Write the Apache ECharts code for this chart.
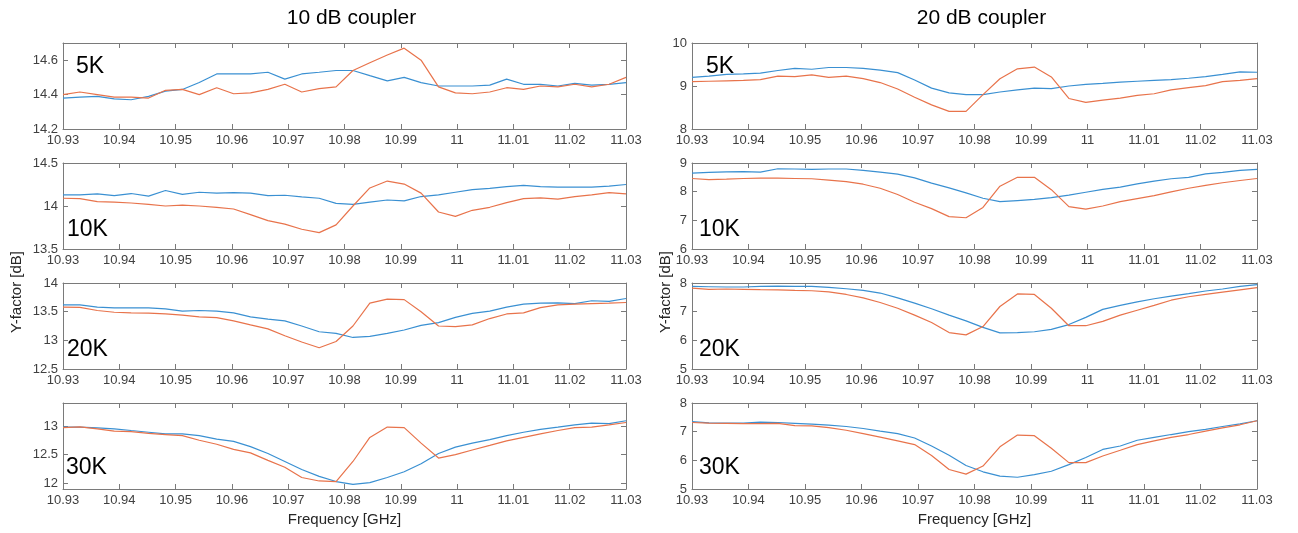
<!DOCTYPE html>
<html>
<head>
<meta charset="utf-8">
<script src="https://cdn.jsdelivr.net/npm/echarts@6/dist/echarts.min.js"></script>
<style>
html,body{margin:0;padding:0;background:#fff;}
#main{width:1298px;height:533px;}
</style>
</head>
<body>
<div id="main"></div>
<script>
// frequency points [GHz], shared by every trace
var freq = [10.93, 10.933, 10.9361, 10.9391, 10.9421, 10.9452, 10.9482, 10.9512, 10.9542, 10.9573,
	10.9603, 10.9633, 10.9664, 10.9694, 10.9724, 10.9755, 10.9785, 10.9815, 10.9845, 10.9876,
	10.9906, 10.9936, 10.9967, 10.9997, 11.0027, 11.0058, 11.0088, 11.0118, 11.0148, 11.0179,
	11.0209, 11.0239, 11.027, 11.03];

// 10 dB coupler
var c10Blue5K = [14.38, 14.385, 14.39, 14.375, 14.37, 14.39, 14.42, 14.43, 14.47, 14.52, 14.52, 14.52, 14.53, 14.49, 14.52, 14.53, 14.54,
	14.54, 14.51, 14.48, 14.50, 14.47, 14.45, 14.45, 14.45, 14.455, 14.49, 14.46, 14.46, 14.45, 14.465, 14.455, 14.46, 14.47];
var c10Orange5K = [14.40, 14.415, 14.40, 14.385, 14.385, 14.38, 14.425, 14.43, 14.40, 14.44, 14.405, 14.41, 14.43, 14.46, 14.415, 14.435, 14.445,
	14.54, 14.585, 14.63, 14.67, 14.60, 14.445, 14.41, 14.405, 14.415, 14.44, 14.43, 14.45, 14.445, 14.46, 14.445, 14.46, 14.50];
var c10Blue10K = [14.13, 14.13, 14.14, 14.12, 14.145, 14.115, 14.18, 14.135, 14.16, 14.15, 14.155, 14.15, 14.12, 14.125, 14.105, 14.09, 14.03,
	14.02, 14.045, 14.07, 14.06, 14.11, 14.13, 14.16, 14.19, 14.205, 14.225, 14.24, 14.225, 14.22, 14.22, 14.22, 14.23, 14.25];
var c10Orange10K = [14.09, 14.085, 14.05, 14.045, 14.035, 14.02, 14.00, 14.01, 14.0, 13.985, 13.965, 13.90, 13.83, 13.79, 13.73, 13.69, 13.78,
	14.0, 14.21, 14.29, 14.255, 14.15, 13.93, 13.88, 13.95, 13.985, 14.04, 14.085, 14.095, 14.08, 14.11, 14.13, 14.155, 14.14];
var c10Blue20K = [13.62, 13.62, 13.58, 13.565, 13.565, 13.565, 13.55, 13.51, 13.52, 13.51, 13.48, 13.41, 13.37, 13.34, 13.25, 13.15, 13.12,
	13.05, 13.07, 13.12, 13.18, 13.26, 13.31, 13.40, 13.47, 13.51, 13.58, 13.63, 13.65, 13.655, 13.64, 13.69, 13.68, 13.73];
var c10Orange20K = [13.58, 13.575, 13.52, 13.49, 13.48, 13.475, 13.46, 13.44, 13.41, 13.395, 13.34, 13.27, 13.20, 13.08, 12.97, 12.87, 12.98,
	13.25, 13.65, 13.72, 13.71, 13.50, 13.25, 13.24, 13.27, 13.38, 13.46, 13.48, 13.57, 13.62, 13.63, 13.64, 13.65, 13.66];
var c10Blue30K = [12.98, 12.98, 12.965, 12.95, 12.92, 12.89, 12.86, 12.86, 12.83, 12.77, 12.73, 12.64, 12.52, 12.38, 12.24, 12.12, 12.03,
	11.98, 12.01, 12.10, 12.20, 12.34, 12.52, 12.63, 12.70, 12.76, 12.83, 12.89, 12.94, 12.98, 13.02, 13.05, 13.04, 13.09];
var c10Orange30K = [12.97, 12.985, 12.95, 12.91, 12.90, 12.87, 12.85, 12.83, 12.75, 12.68, 12.59, 12.53, 12.40, 12.28, 12.10, 12.04, 12.03,
	12.38, 12.80, 12.98, 12.97, 12.70, 12.44, 12.50, 12.58, 12.66, 12.74, 12.80, 12.86, 12.92, 12.97, 12.98, 13.02, 13.06];

// 20 dB coupler
var c20Blue5K = [9.20, 9.23, 9.27, 9.28, 9.30, 9.36, 9.41, 9.39, 9.43, 9.43, 9.41, 9.37, 9.31, 9.14, 8.95, 8.84, 8.80,
	8.80, 8.86, 8.91, 8.95, 8.94, 9.0, 9.04, 9.06, 9.09, 9.11, 9.13, 9.15, 9.18, 9.22, 9.27, 9.33, 9.32];
var c20Orange5K = [9.10, 9.11, 9.12, 9.13, 9.15, 9.23, 9.22, 9.26, 9.20, 9.23, 9.17, 9.08, 8.93, 8.74, 8.56, 8.41, 8.41,
	8.80, 9.17, 9.40, 9.44, 9.21, 8.71, 8.62, 8.67, 8.72, 8.78, 8.82, 8.91, 8.96, 9.01, 9.10, 9.13, 9.17];
var c20Blue10K = [8.65, 8.67, 8.69, 8.70, 8.68, 8.80, 8.79, 8.78, 8.79, 8.79, 8.74, 8.68, 8.61, 8.48, 8.30, 8.13, 7.96,
	7.77, 7.65, 7.69, 7.73, 7.79, 7.88, 7.98, 8.08, 8.16, 8.27, 8.37, 8.45, 8.50, 8.62, 8.67, 8.74, 8.78];
var c20Orange10K = [8.46, 8.42, 8.44, 8.46, 8.47, 8.47, 8.46, 8.45, 8.40, 8.35, 8.26, 8.12, 7.90, 7.63, 7.41, 7.13, 7.09,
	7.45, 8.19, 8.50, 8.50, 8.07, 7.48, 7.39, 7.50, 7.65, 7.76, 7.86, 7.99, 8.12, 8.22, 8.31, 8.39, 8.46];
var c20Blue20K = [7.88, 7.87, 7.86, 7.86, 7.88, 7.89, 7.88, 7.88, 7.85, 7.80, 7.74, 7.65, 7.48, 7.30, 7.10, 6.88, 6.68,
	6.45, 6.26, 6.27, 6.30, 6.38, 6.55, 6.80, 7.08, 7.22, 7.34, 7.45, 7.54, 7.63, 7.72, 7.79, 7.88, 7.94];
var c20Orange20K = [7.82, 7.78, 7.79, 7.78, 7.77, 7.76, 7.74, 7.73, 7.69, 7.60, 7.48, 7.32, 7.12, 6.88, 6.62, 6.27, 6.19,
	6.48, 7.18, 7.62, 7.60, 7.12, 6.51, 6.51, 6.66, 6.88, 7.05, 7.22, 7.40, 7.52, 7.60, 7.68, 7.76, 7.84];
var c20Blue30K = [7.35, 7.31, 7.30, 7.30, 7.33, 7.32, 7.29, 7.26, 7.23, 7.18, 7.11, 7.02, 6.93, 6.78, 6.50, 6.18, 5.82,
	5.60, 5.45, 5.41, 5.50, 5.62, 5.85, 6.10, 6.38, 6.50, 6.70, 6.80, 6.90, 7.0, 7.08, 7.18, 7.27, 7.38];
var c20Orange30K = [7.32, 7.30, 7.29, 7.28, 7.28, 7.29, 7.21, 7.20, 7.14, 7.05, 6.93, 6.81, 6.68, 6.55, 6.17, 5.68, 5.52,
	5.80, 6.47, 6.88, 6.86, 6.42, 5.92, 5.92, 6.15, 6.35, 6.55, 6.68, 6.80, 6.90, 7.02, 7.13, 7.24, 7.38];

// axis ranges and tick labels, one entry per row (5K, 10K, 20K, 30K)
var temps = ['5K', '10K', '20K', '30K'];
var titles = ['10 dB coupler', '20 dB coupler'];
var yRange10 = [[14.2, 14.7], [13.5, 14.5], [12.5, 14], [11.9, 13.4]];
var yTicks10 = [[14.2, 14.4, 14.6], [13.5, 14, 14.5], [12.5, 13, 13.5, 14], [12, 12.5, 13]];
var yRange20 = [[8, 10], [6, 9], [5, 8], [5, 8]];
var yTicks20 = [[8, 9, 10], [6, 7, 8, 9], [5, 6, 7, 8], [5, 6, 7, 8]];
var xTicks = [10.93, 10.94, 10.95, 10.96, 10.97, 10.98, 10.99, 11, 11.01, 11.02, 11.03];

var blueData = [[c10Blue5K, c10Blue10K, c10Blue20K, c10Blue30K], [c20Blue5K, c20Blue10K, c20Blue20K, c20Blue30K]];
var orangeData = [[c10Orange5K, c10Orange10K, c10Orange20K, c10Orange30K], [c20Orange5K, c20Orange10K, c20Orange20K, c20Orange30K]];
var yRanges = [yRange10, yRange20];
var yTicks = [yTicks10, yTicks20];

// layout
var colLeft = [63, 692];
var colWidth = [563, 565];
var rowTop = [43, 163, 283, 403];
var rowHeight = 86;
var tagX = [[76, 67, 67, 66], [706, 699, 699, 699]];
var tagY = [67, 230, 350, 468];
var yNameX = [17, 666];

var boxColor = '#7a7a7a';
var labelColor = '#404040';
var blueColor = '#3a90d2';
var orangeColor = '#e8734b';
var font = 'Liberation Sans, Arial, sans-serif';

function pairs(xs, ys){
	var out = [];
	for(var i = 0; i < xs.length; i++){
		out.push([xs[i], ys[i]]);
	}
	return out;
}

function buildOption(){
	var grids = [], xAxes = [], yAxes = [], series = [], graphic = [];
	for(var c = 0; c < 2; c++){
		for(var r = 0; r < 4; r++){
			var g = grids.length;
			grids.push({left: colLeft[c], top: rowTop[r], width: colWidth[c], height: rowHeight});
			var line = {show: true, onZero: false, lineStyle: {color: boxColor, width: 1}};
			xAxes.push({
				gridIndex: g, type: 'value', position: 'bottom',
				min: xTicks[0], max: xTicks[xTicks.length - 1],
				axisLine: line,
				axisTick: {show: true, inside: true, length: 5, lineStyle: {color: boxColor}, customValues: xTicks},
				axisLabel: {color: labelColor, fontSize: 13, fontFamily: font, margin: 5, customValues: xTicks},
				splitLine: {show: false}
			});
			xAxes.push({
				gridIndex: g, type: 'value', position: 'top',
				min: xTicks[0], max: xTicks[xTicks.length - 1],
				axisLine: line,
				axisTick: {show: true, inside: true, length: 5, lineStyle: {color: boxColor}, customValues: xTicks},
				axisLabel: {show: false},
				splitLine: {show: false}
			});
			var yr = yRanges[c][r], yt = yTicks[c][r];
			yAxes.push({
				gridIndex: g, type: 'value', position: 'left',
				min: yr[0], max: yr[1],
				axisLine: line,
				axisTick: {show: true, inside: true, length: 5, lineStyle: {color: boxColor}, customValues: yt},
				axisLabel: {color: labelColor, fontSize: 13, fontFamily: font, margin: 5, customValues: yt},
				splitLine: {show: false}
			});
			yAxes.push({
				gridIndex: g, type: 'value', position: 'right',
				min: yr[0], max: yr[1],
				axisLine: line,
				axisTick: {show: true, inside: true, length: 5, lineStyle: {color: boxColor}, customValues: yt},
				axisLabel: {show: false},
				splitLine: {show: false}
			});
			series.push({
				type: 'line', xAxisIndex: 2 * g, yAxisIndex: 2 * g,
				data: pairs(freq, blueData[c][r]),
				showSymbol: false, silent: true,
				lineStyle: {color: blueColor, width: 1.2}
			});
			series.push({
				type: 'line', xAxisIndex: 2 * g, yAxisIndex: 2 * g,
				data: pairs(freq, orangeData[c][r]),
				showSymbol: false, silent: true,
				lineStyle: {color: orangeColor, width: 1.2}
			});
			graphic.push({
				type: 'text', x: tagX[c][r], y: tagY[r], z: 10,
				style: {text: temps[r], fill: '#000', font: '23px ' + font, textAlign: 'left', textVerticalAlign: 'middle'}
			});
		}
		var cx = colLeft[c] + colWidth[c] / 2;
		graphic.push({
			type: 'text', x: cx + 7, y: 18,
			style: {text: titles[c], fill: '#000', font: '21px ' + font, textAlign: 'center', textVerticalAlign: 'middle'}
		});
		graphic.push({
			type: 'text', x: cx, y: 520,
			style: {text: 'Frequency [GHz]', fill: '#262626', font: '15px ' + font, textAlign: 'center', textVerticalAlign: 'middle'}
		});
		graphic.push({
			type: 'text', x: yNameX[c], y: 292, rotation: Math.PI / 2,
			style: {text: 'Y-factor [dB]', fill: '#262626', font: '15px ' + font, textAlign: 'center', textVerticalAlign: 'middle'}
		});
	}
	return {
		animation: false,
		backgroundColor: '#fff',
		grid: grids,
		xAxis: xAxes,
		yAxis: yAxes,
		series: series,
		graphic: graphic
	};
}

var chart = echarts.init(document.getElementById('main'), null, {renderer: 'canvas'});
chart.setOption(buildOption());
</script>
</body>
</html>
